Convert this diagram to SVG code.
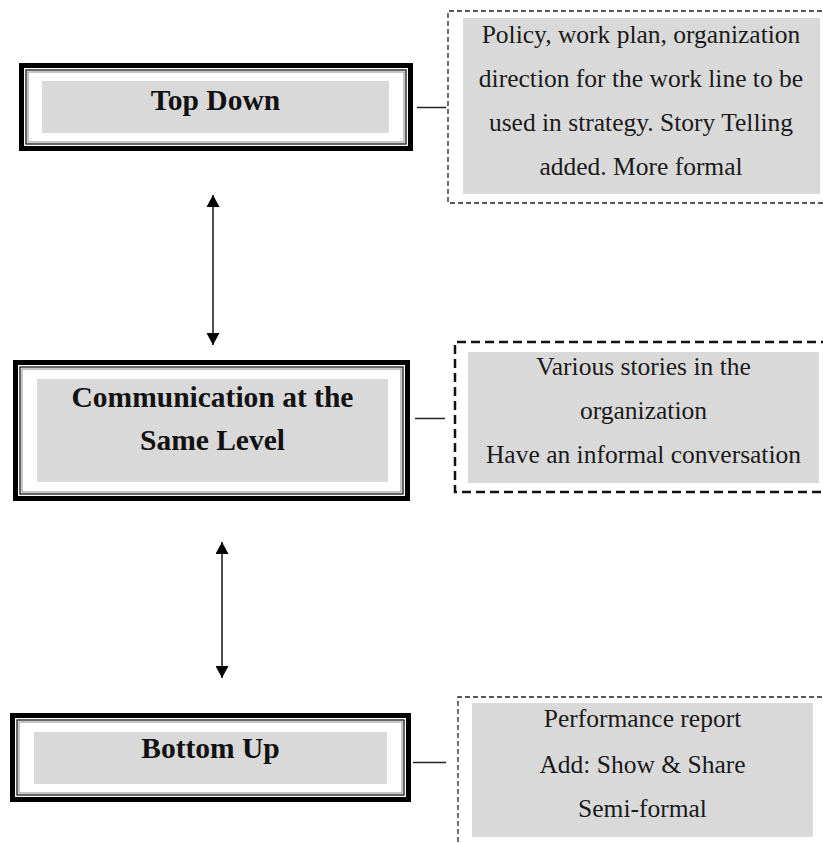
<svg xmlns="http://www.w3.org/2000/svg" width="823" height="843" viewBox="0 0 823 843">
  <defs>
    <style>
      .frame-outer { fill: #ffffff; stroke: #000000; stroke-width: 5; }
      .frame-inner { fill: none; stroke: #000000; stroke-width: 1.2; }
      .frame-gray { fill: none; stroke: #8c8c8c; stroke-width: 1; }
      .panel { fill: #d9d9d9; stroke: none; }
      .title { font-family: "Liberation Serif", "Times New Roman", serif; font-weight: bold; font-size: 29.5px; fill: #111111; text-anchor: middle; }
      .body { font-family: "Liberation Serif", "Times New Roman", serif; font-size: 25.5px; fill: #1a1a1a; text-anchor: middle; }
      .dash-thin { fill: none; stroke: #222222; stroke-width: 1.3; stroke-dasharray: 5 3; }
      .dash-thick { fill: none; stroke: #111111; stroke-width: 2.5; stroke-dasharray: 9 5; }
      .link { stroke: #222222; stroke-width: 1.5; fill: none; }
      .arrow { stroke: #222222; stroke-width: 1.6; fill: none; marker-start: url(#head); marker-end: url(#head); }
    </style>
    <marker id="head" viewBox="0 0 12 13" refX="12" refY="6.5" markerWidth="12" markerHeight="13" markerUnits="userSpaceOnUse" orient="auto-start-reverse">
      <path d="M0,0 L12,6.5 L0,13 Z" fill="#000000"/>
    </marker>
  </defs>

  <rect width="823" height="843" fill="#ffffff"/>

  <!-- Top Down -->
  <g id="top-down">
    <rect class="frame-outer" x="21.5" y="65.5" width="389" height="83"/>
    <rect class="frame-inner" x="26" y="70" width="380" height="74"/>
    <rect class="frame-gray" x="28" y="72" width="376" height="70"/>
    <rect class="panel" x="42" y="81" width="347" height="52"/>
    <text class="title" x="215.5" y="110">Top Down</text>
  </g>

  <g id="top-down-note">
    <path class="dash-thin" d="M830,11 H448 V203 H830"/>
    <rect class="panel" x="463" y="18" width="357" height="176"/>
    <text class="body" x="641" y="43">Policy, work plan, organization</text>
    <text class="body" x="641" y="87">direction for the work line to be</text>
    <text class="body" x="641" y="130.5">used in strategy. Story Telling</text>
    <text class="body" x="641" y="175">added. More formal</text>
  </g>

  <!-- Communication at the Same Level -->
  <g id="same-level">
    <rect class="frame-outer" x="15.5" y="362.5" width="392" height="136"/>
    <rect class="frame-inner" x="20" y="367" width="383" height="127"/>
    <rect class="frame-gray" x="22" y="369" width="379" height="123"/>
    <rect class="panel" x="37" y="379" width="351" height="103"/>
    <text class="title" x="212.5" y="407">Communication at the</text>
    <text class="title" x="212.5" y="450">Same Level</text>
  </g>

  <g id="same-level-note">
    <path class="dash-thick" d="M830,342 H455 V492 H830"/>
    <rect class="panel" x="468" y="352" width="351" height="131"/>
    <text class="body" x="643.5" y="375">Various stories in the</text>
    <text class="body" x="643.5" y="419">organization</text>
    <text class="body" x="643.5" y="463">Have an informal conversation</text>
  </g>

  <!-- Bottom Up -->
  <g id="bottom-up">
    <rect class="frame-outer" x="12.5" y="715.5" width="396" height="84"/>
    <rect class="frame-inner" x="17" y="720" width="387" height="75"/>
    <rect class="frame-gray" x="19" y="722" width="383" height="71"/>
    <rect class="panel" x="34" y="732" width="353" height="52"/>
    <text class="title" x="210.5" y="758">Bottom Up</text>
  </g>

  <g id="bottom-up-note">
    <path class="dash-thin" d="M830,697 H458 V850"/>
    <rect class="panel" x="472" y="703" width="341" height="134"/>
    <text class="body" x="642.5" y="727">Performance report</text>
    <text class="body" x="642.5" y="773">Add: Show &amp; Share</text>
    <text class="body" x="642.5" y="817">Semi-formal</text>
  </g>

  <!-- Connectors -->
  <g id="connectors">
    <line class="link" x1="417" y1="107.5" x2="446" y2="107.5"/>
    <line class="link" x1="415" y1="418.5" x2="445" y2="418.5"/>
    <line class="link" x1="413" y1="762.5" x2="446" y2="762.5"/>
    <line class="arrow" x1="213" y1="195" x2="213" y2="345"/>
    <line class="arrow" x1="222" y1="542" x2="222" y2="678"/>
  </g>
</svg>
